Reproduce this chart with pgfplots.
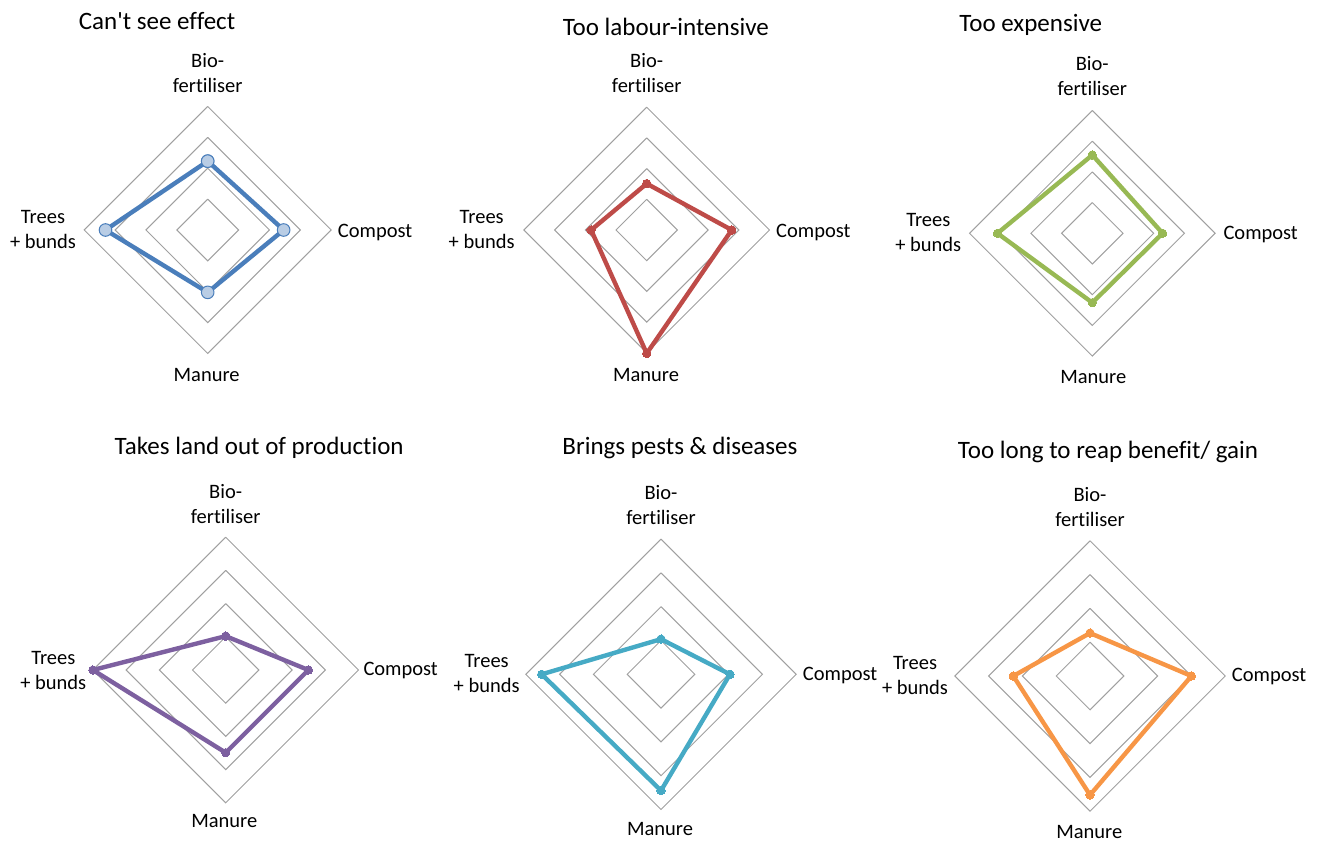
\documentclass[border=0pt]{standalone}
\usepackage{fontspec}
\setmainfont{Carlito}[Ligatures={NoCommon}]
\usepackage{pgfplots}
\pgfplotsset{compat=1.18}
\definecolor{gridgray}{RGB}{160,160,160}
\definecolor{cblue}{HTML}{4A7EBB}
\definecolor{cbluefill}{HTML}{B9CDE5}
\definecolor{cred}{HTML}{BE4B48}
\definecolor{cgreen}{HTML}{98B954}
\definecolor{cpurple}{HTML}{7D60A0}
\definecolor{cteal}{HTML}{46AAC5}
\definecolor{corange}{HTML}{F79646}
\newcommand\lbl{\fontsize{20.5}{25}\selectfont}
\newcommand\ttl{\fontsize{25}{30}\selectfont}
\pgfplotsset{
  radar/.style={anchor=center, scale only axis, xmin=-4, xmax=4, ymin=-4, ymax=4,
    hide axis, clip=false},
  ring/.style={draw=gridgray, line width=1pt, no markers, data cs=polar},
  series/.style={color=#1, line width=4.4pt, line join=round, line cap=round, data cs=polar,
    mark=*, mark size=4.2pt, mark options={fill=#1, draw=#1, line width=0pt}},
}
\newcommand\rings{\pgfplotsinvokeforeach{1,2,3,4}{\addplot[ring] coordinates {(90,##1) (0,##1) (270,##1) (180,##1) (90,##1)};}}
\tikzset{lab/.style={font=\lbl, align=center, inner sep=0pt},
  labw/.style={font=\lbl, anchor=base west, inner sep=0pt},
  labb/.style={font=\lbl, anchor=base, inner sep=0pt},
  tit/.style={font=\ttl, anchor=base, inner sep=0pt}}
\begin{document}
\begin{tikzpicture}
\useasboundingbox (0pt,0pt) rectangle (1321pt,841pt);
% ---------- 1 Can't see effect
\begin{axis}[radar, at={(207.7pt,611pt)}, width=247pt, height=247pt]
\rings
\addplot[series=cblue, mark size=6.3pt, mark options={fill=cbluefill, draw=cblue, line width=1pt}]
  coordinates {(90,2.23) (0,2.46) (270,2.02) (180,3.31) (90,2.23)};
\end{axis}
\node[tit] at (157pt,811.7pt) {Can\textquotesingle t see effect};
\node[lab] at (207.7pt,767.5pt) {Bio-\\fertiliser};
\node[lab] at (43pt,611pt) {Trees\\+ bunds};
\node[labw] at (337.7pt,603.7pt) {Compost};
\node[labb] at (206.7pt,459.3pt) {Manure};
% ---------- 2 Too labour-intensive
\begin{axis}[radar, at={(646.7pt,611pt)}, width=245.6pt, height=245.6pt]
\rings
\addplot[series=cred] coordinates {(90,1.51) (0,2.77) (270,4.02) (180,1.81) (90,1.51)};
\end{axis}
\node[tit] at (665.8pt,805pt) {Too labour-intensive};
\node[lab] at (646.7pt,767.5pt) {Bio-\\fertiliser};
\node[lab] at (481.7pt,611pt) {Trees\\+ bunds};
\node[labw] at (776pt,603.7pt) {Compost};
\node[labb] at (646pt,459.3pt) {Manure};
% ---------- 3 Too expensive
\begin{axis}[radar, at={(1092.3pt,607.7pt)}, width=245.6pt, height=245.6pt]
\rings
\addplot[series=cgreen] coordinates {(90,2.55) (0,2.29) (270,2.26) (180,3.09) (90,2.55)};
\end{axis}
\node[tit] at (1030.7pt,809.3pt) {Too expensive};
\node[lab] at (1092.3pt,764.7pt) {Bio-\\fertiliser};
\node[lab] at (928.3pt,608pt) {Trees\\+ bunds};
\node[labw] at (1223.3pt,601pt) {Compost};
\node[labb] at (1093.3pt,457.7pt) {Manure};
% ---------- 4 Takes land out of production
\begin{axis}[radar, at={(225.7pt,171pt)}, width=265.6pt, height=265.6pt]
\rings
\addplot[series=cpurple] coordinates {(90,1.02) (0,2.49) (270,2.49) (180,4.0) (90,1.02)};
\end{axis}
\node[tit] at (259.2pt,386pt) {Takes land out of production};
\node[lab] at (225.7pt,336.5pt) {Bio-\\fertiliser};
\node[lab] at (53.3pt,171pt) {Trees\\+ bunds};
\node[labw] at (363.3pt,166pt) {Compost};
\node[labb] at (224.3pt,13.7pt) {Manure};
% ---------- 5 Brings pests & diseases
\begin{axis}[radar, at={(661pt,166.7pt)}, width=270.4pt, height=270.4pt]
\rings
\addplot[series=cteal] coordinates {(90,1.04) (0,2.04) (270,3.44) (180,3.53) (90,1.04)};
\end{axis}
\node[tit] at (680pt,386pt) {Brings pests \& diseases};
\node[lab] at (661pt,336pt) {Bio-\\fertiliser};
\node[lab] at (486.7pt,167.7pt) {Trees\\+ bunds};
\node[labw] at (802.7pt,161pt) {Compost};
\node[labb] at (660pt,6pt) {Manure};
% ---------- 6 Too long to reap benefit/ gain
\begin{axis}[radar, at={(1090pt,165pt)}, width=270.4pt, height=270.4pt]
\rings
\addplot[series=corange] coordinates {(90,1.27) (0,3.0) (270,3.52) (180,2.27) (90,1.27)};
\end{axis}
\node[tit] at (1108pt,382.7pt) {Too long to reap benefit/ gain};
\node[lab] at (1090pt,334pt) {Bio-\\fertiliser};
\node[lab] at (915pt,165.5pt) {Trees\\+ bunds};
\node[labw] at (1231.7pt,159.3pt) {Compost};
\node[labb] at (1089.3pt,2.7pt) {Manure};
\end{tikzpicture}
\end{document}
